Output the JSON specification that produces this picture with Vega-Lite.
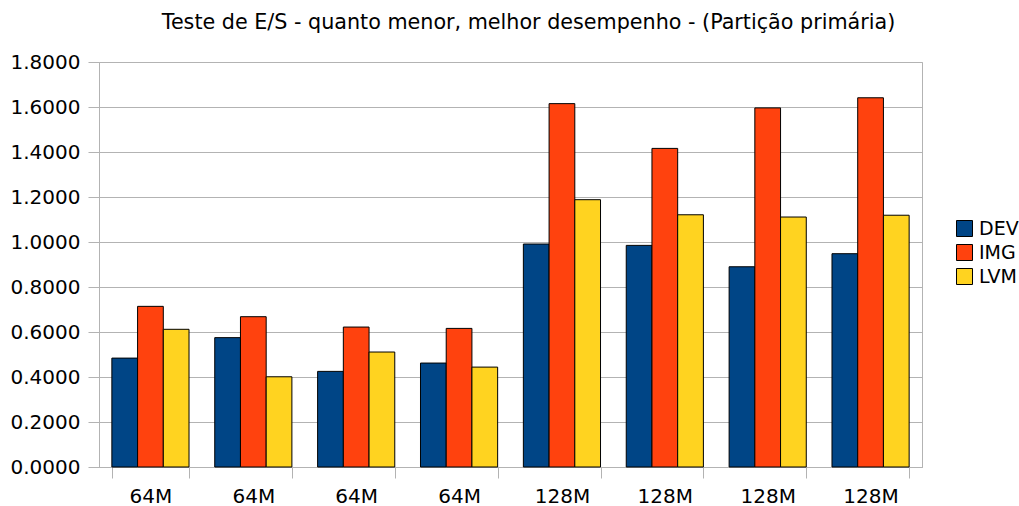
{
  "$schema": "https://vega.github.io/schema/vega-lite/v6.json",
  "width": 823,
  "height": 405,
  "autosize": "none",
  "padding": {"left": 99, "top": 62, "right": 97, "bottom": 39},
  "background": "white",
  "title": {
    "text": "Teste de E/S - quanto menor, melhor desempenho - (Partição primária)",
    "font": "DejaVu Sans",
    "fontSize": 20.7,
    "fontWeight": "normal",
    "color": "#000000",
    "anchor": "middle",
    "dx": 18,
    "offset": 18
  },
  "config": {
    "view": {"stroke": "#b3b3b3", "strokeWidth": 1},
    "font": "DejaVu Sans"
  },
  "data": {
    "values": [
      {"grupo": "1", "tamanho": "64M", "serie": "DEV", "valor": 0.484},
      {"grupo": "1", "tamanho": "64M", "serie": "IMG", "valor": 0.714},
      {"grupo": "1", "tamanho": "64M", "serie": "LVM", "valor": 0.612},
      {"grupo": "2", "tamanho": "64M", "serie": "DEV", "valor": 0.575},
      {"grupo": "2", "tamanho": "64M", "serie": "IMG", "valor": 0.668},
      {"grupo": "2", "tamanho": "64M", "serie": "LVM", "valor": 0.401},
      {"grupo": "3", "tamanho": "64M", "serie": "DEV", "valor": 0.425},
      {"grupo": "3", "tamanho": "64M", "serie": "IMG", "valor": 0.622},
      {"grupo": "3", "tamanho": "64M", "serie": "LVM", "valor": 0.511},
      {"grupo": "4", "tamanho": "64M", "serie": "DEV", "valor": 0.462},
      {"grupo": "4", "tamanho": "64M", "serie": "IMG", "valor": 0.616},
      {"grupo": "4", "tamanho": "64M", "serie": "LVM", "valor": 0.444},
      {"grupo": "5", "tamanho": "128M", "serie": "DEV", "valor": 0.991},
      {"grupo": "5", "tamanho": "128M", "serie": "IMG", "valor": 1.615},
      {"grupo": "5", "tamanho": "128M", "serie": "LVM", "valor": 1.188},
      {"grupo": "6", "tamanho": "128M", "serie": "DEV", "valor": 0.985},
      {"grupo": "6", "tamanho": "128M", "serie": "IMG", "valor": 1.416},
      {"grupo": "6", "tamanho": "128M", "serie": "LVM", "valor": 1.121},
      {"grupo": "7", "tamanho": "128M", "serie": "DEV", "valor": 0.890},
      {"grupo": "7", "tamanho": "128M", "serie": "IMG", "valor": 1.596},
      {"grupo": "7", "tamanho": "128M", "serie": "LVM", "valor": 1.111},
      {"grupo": "8", "tamanho": "128M", "serie": "DEV", "valor": 0.948},
      {"grupo": "8", "tamanho": "128M", "serie": "IMG", "valor": 1.641},
      {"grupo": "8", "tamanho": "128M", "serie": "LVM", "valor": 1.119}
    ]
  },
  "mark": {"type": "bar", "stroke": "#000000", "strokeWidth": 1},
  "encoding": {
    "x": {
      "field": "grupo",
      "type": "ordinal",
      "sort": null,
      "scale": {"paddingInner": 0.25, "paddingOuter": 0.125},
      "axis": {
        "title": null,
        "labelAngle": 0,
        "labelExpr": "indexof(['1','2','3','4'], datum.value) >= 0 ? '64M' : (indexof(['5','6','7','8'], datum.value) >= 0 ? '128M' : '')",
        "labelFontSize": 20,
        "labelColor": "#000000",
        "labelPadding": 8,
        "tickBand": "extent",
        "tickSize": 11,
        "tickColor": "#b3b3b3",
        "domainColor": "#b3b3b3",
        "grid": false
      }
    },
    "xOffset": {"field": "serie", "type": "nominal"},
    "y": {
      "field": "valor",
      "type": "quantitative",
      "scale": {"domain": [0, 1.8], "nice": false},
      "axis": {
        "title": null,
        "values": [0, 0.2, 0.4, 0.6, 0.8, 1.0, 1.2, 1.4, 1.6, 1.8],
        "format": ".4f",
        "labelFontSize": 20,
        "labelColor": "#000000",
        "labelPadding": 8,
        "tickSize": 11,
        "tickColor": "#b3b3b3",
        "domainColor": "#b3b3b3",
        "gridColor": "#b3b3b3",
        "grid": true
      }
    },
    "color": {
      "field": "serie",
      "type": "nominal",
      "scale": {"domain": ["DEV", "IMG", "LVM"], "range": ["#004586", "#ff420e", "#ffd320"]},
      "legend": {
        "title": null,
        "orient": "none",
        "legendX": 856,
        "legendY": 157,
        "symbolType": "square",
        "symbolSize": 256,
        "symbolStrokeColor": "#000000",
        "symbolStrokeWidth": 1,
        "symbolOpacity": 1,
        "labelFontSize": 19,
        "labelColor": "#000000",
        "labelOffset": 5,
        "rowPadding": 3
      }
    }
  }
}
